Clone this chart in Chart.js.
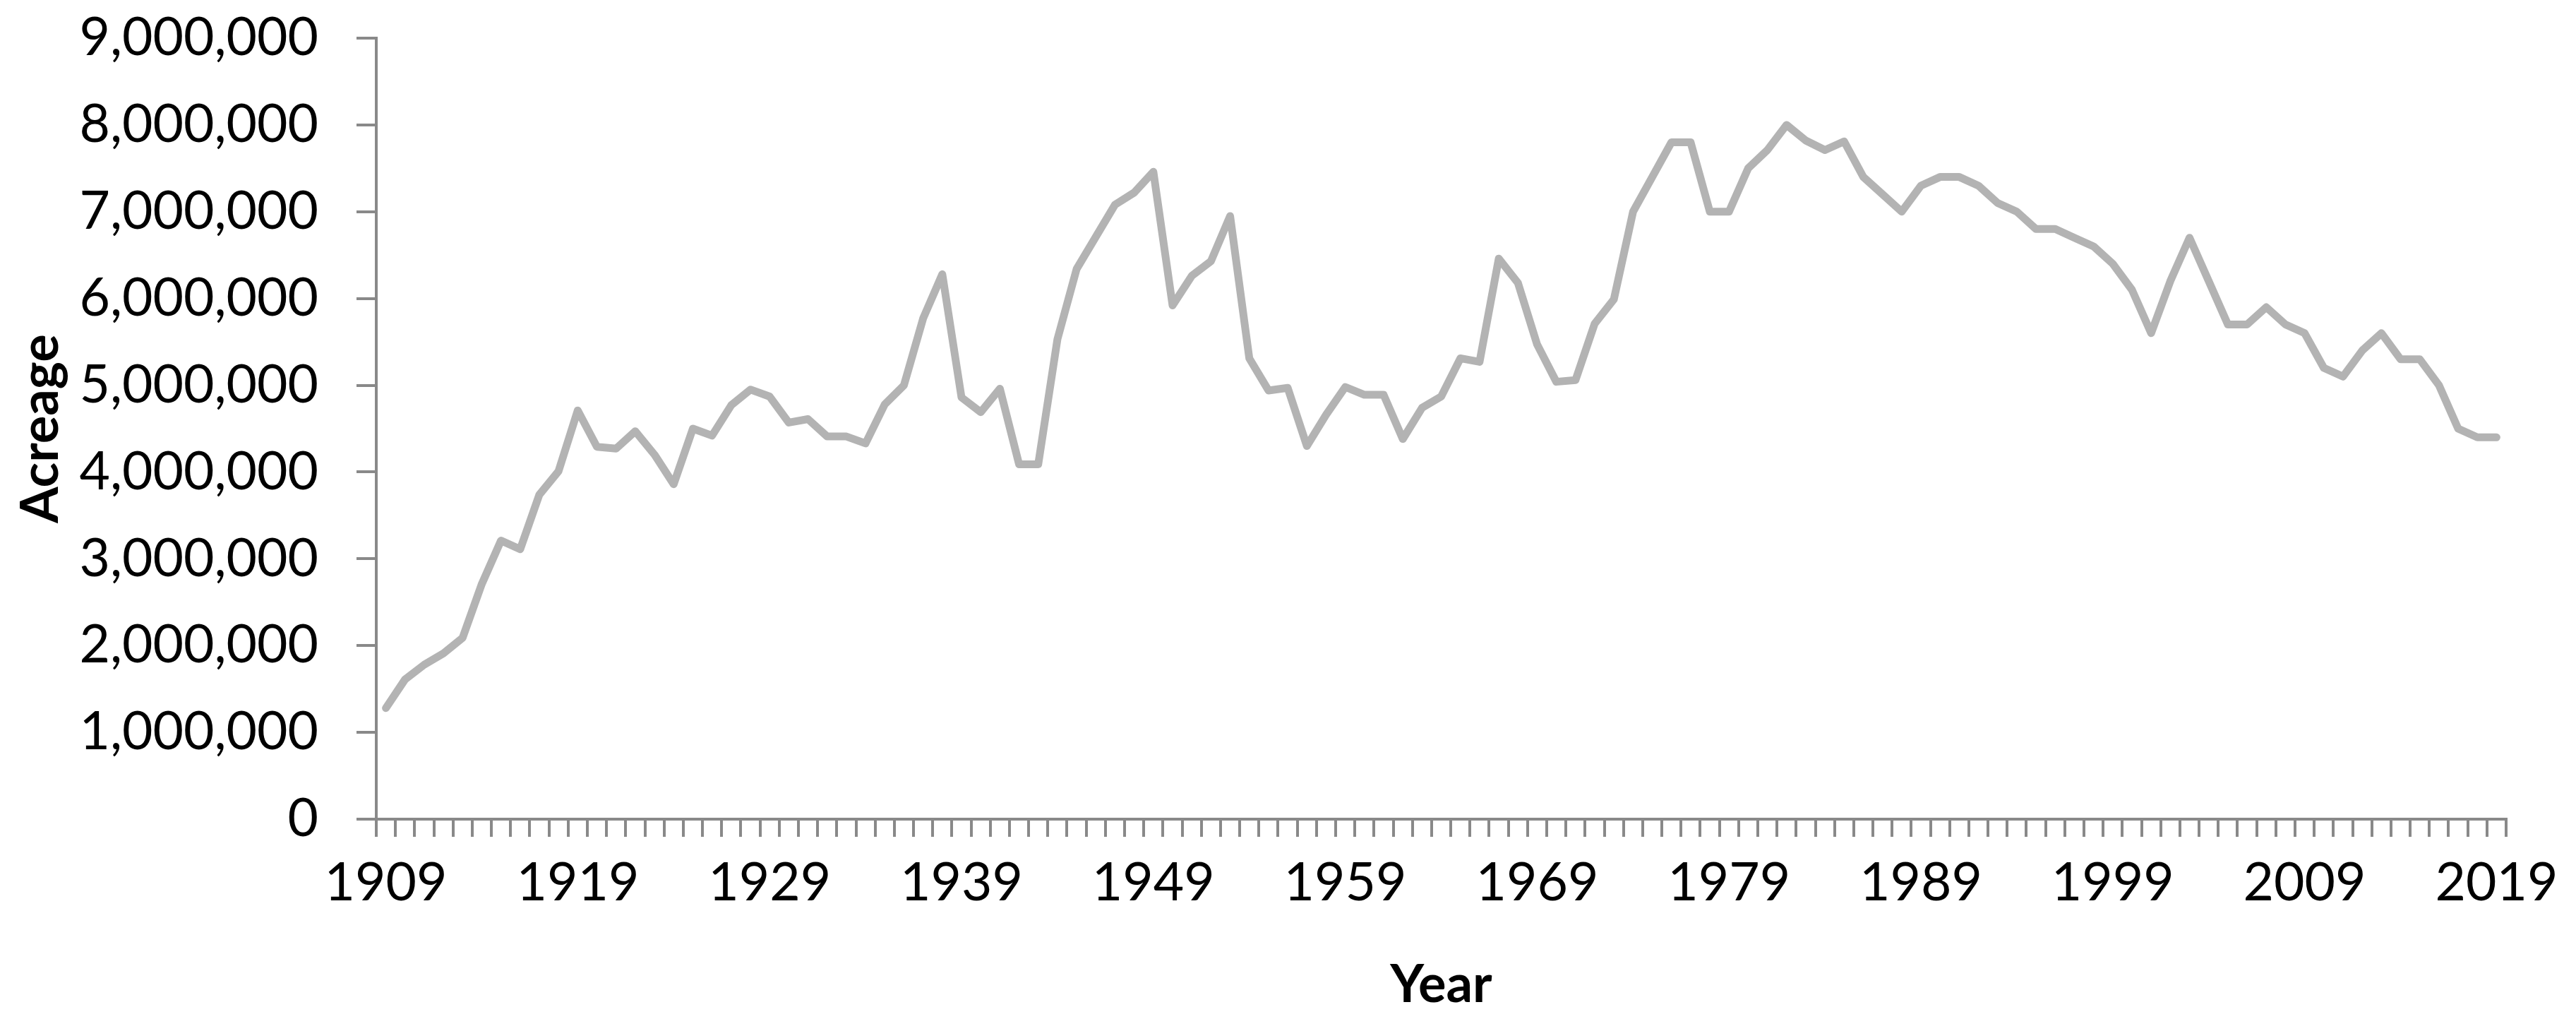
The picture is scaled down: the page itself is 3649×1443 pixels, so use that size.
<!DOCTYPE html>
<html>
<head>
<meta charset="utf-8">
<script src="https://cdn.jsdelivr.net/npm/chart.js@4/dist/chart.umd.min.js"></script>
<style>
  html, body { margin: 0; padding: 0; background: #ffffff; }
  #wrap { width: 3649px; height: 1443px; position: relative; }
</style>
</head>
<body>
<div id="wrap"><canvas id="c" width="3649" height="1443"></canvas></div>
<script>
const years = [
  1909,1910,1911,1912,1913,1914,1915,1916,1917,1918,
  1919,1920,1921,1922,1923,1924,1925,1926,1927,1928,
  1929,1930,1931,1932,1933,1934,1935,1936,1937,1938,
  1939,1940,1941,1942,1943,1944,1945,1946,1947,1948,
  1949,1950,1951,1952,1953,1954,1955,1956,1957,1958,
  1959,1960,1961,1962,1963,1964,1965,1966,1967,1968,
  1969,1970,1971,1972,1973,1974,1975,1976,1977,1978,
  1979,1980,1981,1982,1983,1984,1985,1986,1987,1988,
  1989,1990,1991,1992,1993,1994,1995,1996,1997,1998,
  1999,2000,2001,2002,2003,2004,2005,2006,2007,2008,
  2009,2010,2011,2012,2013,2014,2015,2016,2017,2018,
  2019
];
const acreage = [
  1280000,1610000,1780000,1910000,2090000,2710000,3210000,3110000,3740000,4010000,
  4710000,4290000,4270000,4470000,4200000,3860000,4500000,4420000,4770000,4950000,
  4870000,4570000,4610000,4410000,4410000,4330000,4780000,5000000,5770000,6280000,
  4860000,4690000,4960000,4090000,4090000,5530000,6340000,6710000,7080000,7220000,
  7460000,5920000,6260000,6430000,6950000,5310000,4940000,4970000,4300000,4660000,
  4980000,4890000,4890000,4380000,4740000,4870000,5310000,5270000,6460000,6180000,
  5470000,5040000,5060000,5710000,5990000,7000000,7400000,7800000,7800000,7000000,
  7000000,7500000,7710000,8000000,7820000,7710000,7810000,7400000,7200000,7000000,
  7300000,7400000,7400000,7300000,7100000,7000000,6800000,6800000,6700000,6600000,
  6400000,6100000,5600000,6200000,6700000,6200000,5700000,5700000,5900000,5700000,
  5600000,5200000,5100000,5400000,5600000,5300000,5300000,5000000,4500000,4400000,
  4400000
];
const xTickLabels = ["1909","1919","1929","1939","1949","1959","1969","1979","1989","1999","2009","2019"];
const yTickValues = [0,1000000,2000000,3000000,4000000,5000000,6000000,7000000,8000000,9000000];

const axisGray = '#898989';
const lineGray = '#B3B3B3';
const fontFam = 'Lato, "Open Sans", "Liberation Sans", sans-serif';

new Chart(document.getElementById('c').getContext('2d'), {
  type: 'line',
  data: {
    labels: years.map(String),
    datasets: [{
      label: 'Acreage',
      data: acreage,
      borderColor: lineGray,
      backgroundColor: lineGray,
      borderWidth: 11,
      borderJoinStyle: 'round',
      borderCapStyle: 'round',
      pointRadius: 0,
      pointHoverRadius: 0,
      tension: 0,
      fill: false
    }]
  },
  options: {
    responsive: false,
    animation: false,
    devicePixelRatio: 1,
    layout: { padding: { left: 0, right: 99, top: 0, bottom: 0 } },
    plugins: { legend: { display: false }, tooltip: { enabled: false }, title: { display: false } },
    scales: {
      x: {
        type: 'category',
        offset: true,
        grid: {
          offset: true,
          display: true,
          drawOnChartArea: false,
          drawTicks: true,
          tickLength: 25,
          tickWidth: 4,
          tickColor: axisGray,
          color: axisGray,
          lineWidth: 4
        },
        border: { display: true, color: axisGray, width: 4 },
        ticks: {
          autoSkip: false,
          maxRotation: 0,
          minRotation: 0,
          padding: 21,
          color: '#000000',
          font: { family: fontFam, size: 75 },
          callback: function(value, index) {
            const lab = String(years[index]);
            return xTickLabels.includes(lab) ? lab : '';
          }
        },
        title: {
          display: true,
          text: 'Year',
          color: '#000000',
          font: { family: fontFam, size: 74, weight: 'bold' },
          padding: { top: 0, bottom: 3 }
        },
        afterFit: function(scale) { scale.height = 283; }
      },
      y: {
        min: 0,
        max: 9000000,
        afterBuildTicks: function(scale) { scale.ticks = yTickValues.map(v => ({ value: v })); },
        grid: {
          display: true,
          drawOnChartArea: false,
          drawTicks: true,
          tickLength: 28,
          tickWidth: 4,
          tickColor: axisGray,
          color: axisGray,
          lineWidth: 4
        },
        border: { display: true, color: axisGray, width: 4 },
        ticks: {
          padding: 54,
          color: '#000000',
          font: { family: fontFam, size: 75 },
          callback: function(value) { return Number(value).toLocaleString('en-US'); }
        },
        title: {
          display: true,
          text: 'Acreage',
          color: '#000000',
          font: { family: fontFam, size: 74, weight: 'bold' },
          padding: { top: 14, bottom: 0 }
        },
        afterFit: function(scale) {
          scale.width = 533;
          scale.paddingTop = 54;
          scale.paddingBottom = 0;
        }
      }
    }
  }
});
</script>
</body>
</html>
